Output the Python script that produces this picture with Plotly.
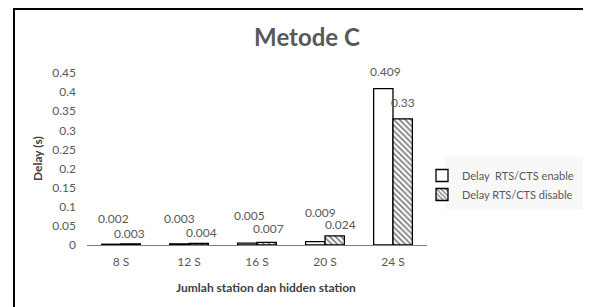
import plotly.graph_objects as go

categories = ["8 S", "12 S", "16 S", "20 S", "24 S"]
delay_enable = [0.002, 0.003, 0.005, 0.009, 0.409]
delay_disable = [0.003, 0.004, 0.007, 0.024, 0.33]
y_ticks = [0, 0.05, 0.1, 0.15, 0.2, 0.25, 0.3, 0.35, 0.4, 0.45]
y_tick_labels = ["0", "0.05", "0.1", "0.15", "0.2", "0.25", "0.3", "0.35", "0.4", "0.45"]

# label offsets (px) as in the original (manually moved labels)
enable_label_dy = [16, 16, 18, 20, 8]
disable_label_dy = [1, 1, 4, 2, 7]
enable_label_dx = [-8, -10, -8, -5, -8]
disable_label_dx = [8, 12, 11, 15, 10]

# the page body has an 8px margin: the figure is laid out in page pixels minus OFF
OFF = 8
W, H = 591 - OFF, 307 - OFF
plot_x0, plot_x1 = 87 - OFF, 427 - OFF
plot_y0, plot_y1 = 73 - OFF, 245 - OFF
L, R, T, B = plot_x0, W - plot_x1, plot_y0, H - plot_y1
pw = plot_x1 - plot_x0
ph = plot_y1 - plot_y0


def px(x):  # page x pixel -> paper x
    return (x - OFF - plot_x0) / pw


def py(y):  # page y pixel -> paper y
    return (plot_y1 - (y - OFF)) / ph


grey = "#595959"
dark = "#404040"
font_family = "Lato, 'Open Sans', sans-serif"

fig = go.Figure()
fig.add_trace(go.Bar(
    x=categories, y=delay_enable, name="Delay\u00a0\u00a0RTS/CTS enable",
    marker=dict(color="white", line=dict(color="black", width=1.3)),
))
fig.add_trace(go.Bar(
    x=categories, y=delay_disable, name="Delay RTS/CTS disable",
    marker=dict(color="white", line=dict(color="black", width=1.3),
                pattern=dict(shape="\\", fgcolor="black", bgcolor="white",
                             size=4, solidity=0.45)),
))

annotations = []
for i, c in enumerate(categories):
    annotations.append(dict(x=c, y=delay_enable[i], xref="x", yref="y",
                            text=f"{delay_enable[i]:g}", showarrow=False,
                            xshift=enable_label_dx[i], yanchor="bottom",
                            yshift=enable_label_dy[i],
                            font=dict(size=12, color=grey, family=font_family)))
    annotations.append(dict(x=c, y=delay_disable[i], xref="x", yref="y",
                            text=f"{delay_disable[i]:g}", showarrow=False,
                            xshift=disable_label_dx[i], yanchor="bottom",
                            yshift=disable_label_dy[i],
                            font=dict(size=12, color=grey, family=font_family)))

# axis titles
annotations.append(dict(x=px(266), y=py(287), xref="paper", yref="paper",
                        text="<b>Jumlah station dan hidden station</b>", showarrow=False,
                        xanchor="center", yanchor="middle",
                        font=dict(size=12, color=dark, family=font_family)))
annotations.append(dict(x=px(37), y=py(159), xref="paper", yref="paper",
                        text="<b>Delay (s)</b>", showarrow=False, textangle=-90,
                        xanchor="center", yanchor="middle",
                        font=dict(size=12, color=dark, family=font_family)))

fig.update_layout(
    width=W, height=H,
    margin=dict(l=L, r=R, t=T, b=B, autoexpand=False),
    paper_bgcolor="white", plot_bgcolor="white",
    font=dict(family=font_family, size=12, color=grey),
    title=dict(text="<b>Metode C</b>", x=px(307), xref="paper", xanchor="center",
               y=1 - (38 - OFF) / H, yanchor="middle",
               font=dict(size=24, color=grey, family=font_family)),
    barmode="group", bargap=0.43, bargroupgap=0,
    showlegend=True,
    legend=dict(x=px(422), y=py(161), xanchor="left", yanchor="top",
                bgcolor="rgba(0,0,0,0)", font=dict(size=11, color=grey, family=font_family),
                itemwidth=30),
    xaxis=dict(showgrid=False, showline=True, linecolor="#7f7f7f", linewidth=1,
               ticks="", tickfont=dict(size=12, color=grey), ticklabelstandoff=6),
    yaxis=dict(range=[0, 0.45], tickvals=y_ticks, ticktext=y_tick_labels,
               showgrid=False, showline=False, zeroline=False, ticks="",
               tickfont=dict(size=12, color=grey), ticklabelstandoff=10),
    annotations=annotations,
    shapes=[
        # legend background
        dict(type="rect", xref="paper", yref="paper",
             x0=px(445), x1=px(587), y0=py(209), y1=py(157),
             line=dict(width=0), fillcolor="#f8f8f8", layer="below"),
        # chart border
        dict(type="rect", xref="paper", yref="paper",
             x0=px(14), x1=px(620), y0=py(340), y1=py(9),
             line=dict(color="black", width=2), fillcolor="rgba(0,0,0,0)",
             layer="above"),
    ],
)

fig.write_html("out.html")
